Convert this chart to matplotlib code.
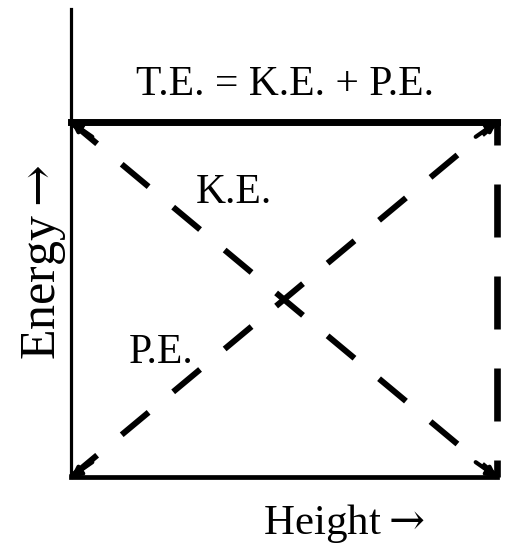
import matplotlib
matplotlib.use("Agg")
import matplotlib.pyplot as plt

# ---- data ----
height = [0.0, 1.0]          # normalised height (ground -> top)
kinetic = [1.0, 0.0]         # K.E. as fraction of total energy
potential = [0.0, 1.0]       # P.E. as fraction of total energy
total = [1.0, 1.0]           # T.E. = K.E. + P.E.

title_text = "T.E. = K.E. + P.E."
ke_label = "K.E."
pe_label = "P.E."
x_label = r"Height$\rightarrow$"
y_label = r"Energy$\rightarrow$"

plt.rcParams['lines.scale_dashes'] = False
plt.rcParams['mathtext.fontset'] = 'dejavuserif'
FONT = ['Liberation Serif', 'DejaVu Serif']
plt.rcParams['font.family'] = FONT

W, H = 505, 549
fig = plt.figure(figsize=(W / 100, H / 100), dpi=100)
# pixel geometry of the plotting frame
x0, x1 = 71, 497
y0, y1 = 477, 122
ytop = 9
ax = fig.add_axes([x0 / W, (H - y0) / H, (x1 - x0) / W, (y0 - ytop) / H])
ymax = (y0 - ytop) / (y0 - y1)
ax.set_xlim(0, 1)
ax.set_ylim(0, ymax)
ax.set_xticks([])
ax.set_yticks([])
for s in ['top', 'right']:
    ax.spines[s].set_visible(False)
ax.spines['left'].set_linewidth(2.3)
ax.spines['bottom'].set_linewidth(3.4)
ax.spines['bottom'].set_bounds(0, 1)
ax.set_facecolor('white')

px = 72 / 100  # points per pixel

# total energy line (solid, thick)
ax.plot(height, total, color='black', lw=5.0, solid_capstyle='projecting', clip_on=False)

# kinetic and potential energy (dashed diagonals)
dash = (1 * px, (35 * px, 32 * px))
ax.plot(height, kinetic, color='black', lw=4.3, linestyle=dash, dash_capstyle='butt', clip_on=False)
ax.plot(height, potential, color='black', lw=4.3, linestyle=dash, dash_capstyle='butt', clip_on=False)

# vertical guide at maximum height (dashed)
vdash = (36 * px, (53 * px, 39 * px))
ax.plot([height[-1], height[-1]], [0, total[-1]], color='black', lw=4.8,
        linestyle=vdash, dash_capstyle='butt', clip_on=False)

# small arrow heads at the corners
def head(xy, frm):
    ax.annotate('', xy=xy, xytext=frm, xycoords='data', textcoords='data',
                arrowprops=dict(arrowstyle='-|>,head_length=0.55,head_width=0.3',
                                color='black', lw=3.0, shrinkA=0, shrinkB=0),
                annotation_clip=False)

d = 0.05
head((height[0], kinetic[0]), (height[0] + d, kinetic[0] - d * 0.835 / 1.0))
head((height[-1], kinetic[-1]), (height[-1] - d, kinetic[-1] + d * 0.835))
head((height[0], potential[0]), (height[0] + d, potential[0] + d * 0.835))
head((height[-1], potential[-1]), (height[-1] - d, potential[-1] - d * 0.835))

# labels
ax.text((285 - x0) / (x1 - x0), (y0 - 95) / (y0 - y1), title_text,
        ha='center', va='baseline', fontsize=30, family=FONT)
ax.text((234 - x0) / (x1 - x0), (y0 - 203) / (y0 - y1), ke_label,
        ha='center', va='baseline', fontsize=30, family=FONT)
ax.text((161 - x0) / (x1 - x0), (y0 - 363) / (y0 - y1), pe_label,
        ha='center', va='baseline', fontsize=30, family=FONT)

fig.text(344 / W, (H - 534) / H, x_label, ha='center', va='baseline',
         fontsize=31, family=FONT)
fig.text(55 / W, (H - 262) / H, y_label, ha='center', va='baseline',
         rotation=90, rotation_mode='anchor', fontsize=36, family=FONT)

fig.savefig('out.png', dpi=100, facecolor='white')
